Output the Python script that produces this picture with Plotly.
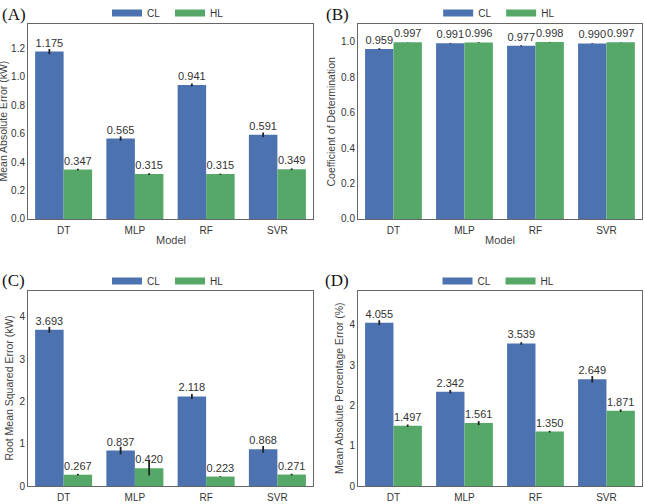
import plotly.graph_objects as go

models = ["DT", "MLP", "RF", "SVR"]

mae_cl = [1.175, 0.565, 0.941, 0.591]
mae_hl = [0.347, 0.315, 0.315, 0.349]
mae_cl_err = [0.018, 0.015, 0.010, 0.016]
mae_hl_err = [0.006, 0.006, 0.004, 0.006]

r2_cl = [0.959, 0.991, 0.977, 0.990]
r2_hl = [0.997, 0.996, 0.998, 0.997]
r2_cl_err = [0.004, 0.002, 0.003, 0.002]
r2_hl_err = [0.001, 0.002, 0.001, 0.001]

rmse_cl = [3.693, 0.837, 2.118, 0.868]
rmse_hl = [0.267, 0.420, 0.223, 0.271]
rmse_cl_err = [0.07, 0.09, 0.06, 0.08]
rmse_hl_err = [0.02, 0.17, 0.01, 0.02]

mape_cl = [4.055, 2.342, 3.539, 2.649]
mape_hl = [1.497, 1.561, 1.350, 1.871]
mape_cl_err = [0.06, 0.04, 0.03, 0.08]
mape_hl_err = [0.03, 0.05, 0.02, 0.03]

panel_labels = ["(A)", "(B)", "(C)", "(D)"]
y_titles = ["Mean Absolute Error (kW)", "Coefficient of Determination",
            "Root Mean Squared Error (kW)", "Mean Absolute Percentage Error (%)"]
x_title = "Model"
series_names = ["CL", "HL"]

BLUE = "#4C72B0"
GREEN = "#55A868"
FONT = "Liberation Sans, Arial, sans-serif"
W, H = 645, 504

panels = [
    dict(cl=mae_cl, hl=mae_hl, cle=mae_cl_err, hle=mae_hl_err, rng=[0, 1.369], dtick=0.2, fmt=".1f",
         xd=[0.0434, 0.4853], yd=[0.5655, 0.9524]),
    dict(cl=r2_cl, hl=r2_hl, cle=r2_cl_err, hle=r2_hl_err, rng=[0, 1.10], dtick=0.2, fmt=".1f",
         xd=[0.555, 0.9953], yd=[0.5655, 0.9524]),
    dict(cl=rmse_cl, hl=rmse_hl, cle=rmse_cl_err, hle=rmse_hl_err, rng=[0, 4.61], dtick=1, fmt="d",
         xd=[0.0434, 0.4853], yd=[0.0357, 0.4226]),
    dict(cl=mape_cl, hl=mape_hl, cle=mape_cl_err, hle=mape_hl_err, rng=[0, 4.84], dtick=1, fmt="d",
         xd=[0.555, 0.9953], yd=[0.0357, 0.4226]),
]

fig = go.Figure()
layout = dict(
    template="none",
    width=W, height=H,
    margin=dict(l=0, r=0, t=0, b=0, autoexpand=False),
    paper_bgcolor="white", plot_bgcolor="white",
    barmode="group", bargap=0.2, bargroupgap=0,
    font=dict(family=FONT, color="#333333", size=10),
    annotations=[],
)

legend_pos = [(0.2636, 0.974), (0.777, 0.974), (0.2636, 0.4425), (0.776, 0.4425)]
label_pos = [(0.0, 0.972), (0.503, 0.972), (0.0, 0.4425), (0.5, 0.4425)]
# axis-title centres in pixels (x for y-titles, y for x-titles)
ytitle_x = [3, 331, 9, 338.5]
xtitle_y = [240, 240, 508, 508]

for i, p in enumerate(panels):
    n = "" if i == 0 else str(i + 1)
    xa, ya = "x" + n, "y" + n
    lg = "legend" + n
    for name, vals, errs, col in [("CL", p["cl"], p["cle"], BLUE), ("HL", p["hl"], p["hle"], GREEN)]:
        fig.add_trace(go.Bar(
            x=models, y=vals, name=name, marker=dict(color=col, line=dict(width=0)),
            error_y=dict(type="data", array=errs, color="#222222", thickness=1.8, width=0),
            texttemplate="%{y:.3f}", textposition="outside", cliponaxis=False,
            constraintext="none", outsidetextfont=dict(size=11, color="#333333", family=FONT),
            xaxis=xa, yaxis=ya, showlegend=False, offsetgroup=name,
        ))
        # legend entry drawn as a wide swatch
        fig.add_trace(go.Scatter(
            x=[None], y=[None], mode="lines", name=name,
            line=dict(color=col, width=7), xaxis=xa, yaxis=ya, legend=lg, showlegend=True,
        ))
    lx, ly = legend_pos[i]
    layout[lg] = dict(orientation="h", x=lx, y=ly, xanchor="center", yanchor="middle",
                      bgcolor="rgba(0,0,0,0)", font=dict(size=10, color="#333333"),
                      itemwidth=30, entrywidth=18, entrywidthmode="pixels")
    layout["xaxis" + n] = dict(
        domain=p["xd"], anchor=ya, automargin=False,
        showline=True, linecolor="#666666", linewidth=1, mirror=True,
        showgrid=False, zeroline=False, ticks="outside", ticklen=2, tickcolor="rgba(0,0,0,0)",
        tickfont=dict(size=10, color="#333333"), range=[-0.5, 3.5],
    )
    layout["yaxis" + n] = dict(
        domain=p["yd"], anchor=xa, automargin=False,
        showline=True, linecolor="#666666", linewidth=1, mirror=True,
        showgrid=False, zeroline=False, ticks="", range=p["rng"], dtick=p["dtick"], tick0=0,
        tickformat=p["fmt"], tickfont=dict(size=10, color="#333333"),
    )
    # axis titles
    layout["annotations"].append(dict(
        text=x_title, x=sum(p["xd"]) / 2, y=1 - xtitle_y[i] / H, xref="paper", yref="paper",
        xanchor="center", yanchor="middle", showarrow=False,
        font=dict(size=11, color="#444444"),
    ))
    layout["annotations"].append(dict(
        text=y_titles[i], x=ytitle_x[i] / W, y=sum(p["yd"]) / 2, xref="paper", yref="paper",
        xanchor="center", yanchor="middle", textangle=-90, showarrow=False,
        font=dict(size=10.5, color="#444444"),
    ))
    px_, py_ = label_pos[i]
    layout["annotations"].append(dict(
        text=panel_labels[i], x=px_, y=py_, xref="paper", yref="paper",
        xanchor="left", yanchor="middle", showarrow=False,
        font=dict(family="Liberation Serif, Times New Roman, serif", size=17, color="#111111"),
    ))

fig.update_layout(**layout)
fig.write_html("out.html")
